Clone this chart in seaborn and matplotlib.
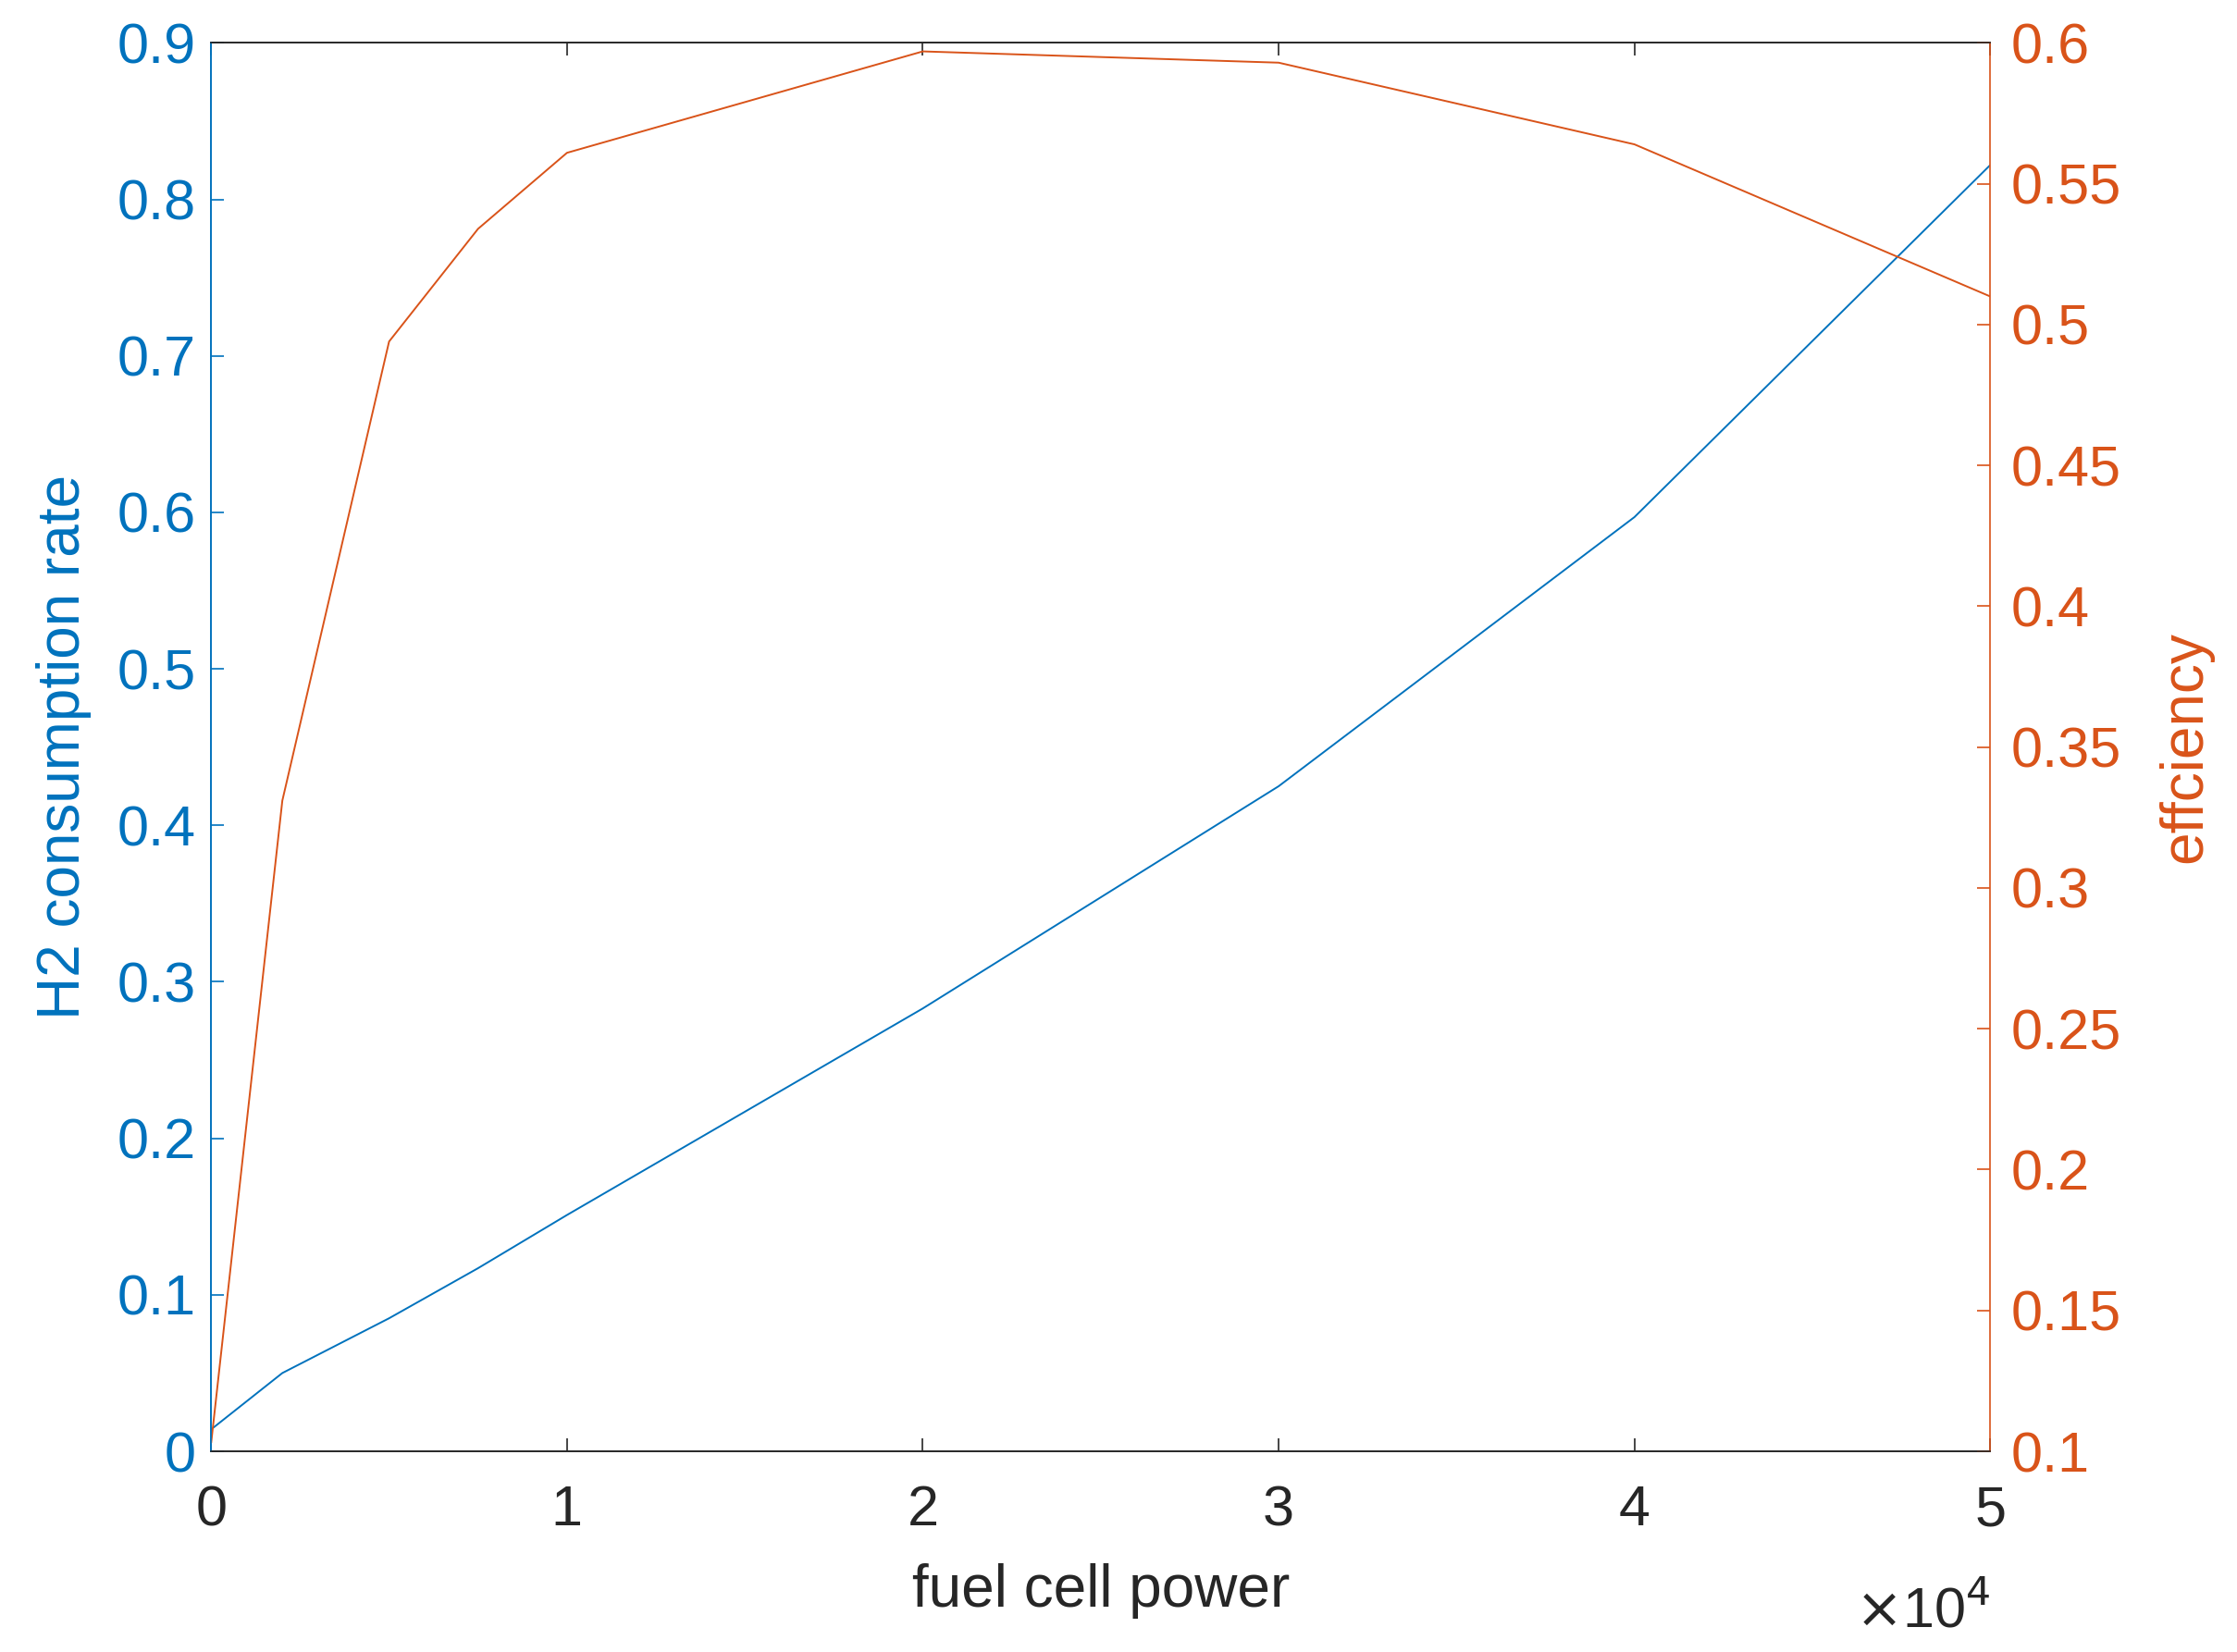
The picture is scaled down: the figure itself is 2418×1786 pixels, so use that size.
import matplotlib
matplotlib.use("Agg")
import matplotlib.pyplot as plt
import seaborn as sns
import pandas as pd

# fuel cell power (W) and the two curves
power = [0, 2000, 5000, 7500, 10000, 20000, 30000, 40000, 50000]
h2_rate = [0.014, 0.05, 0.085, 0.117, 0.151, 0.283, 0.425, 0.597, 0.822]
efficiency = [0.103, 0.331, 0.494, 0.534, 0.561, 0.597, 0.593, 0.564, 0.510]

blue = "#0072BD"
orange = "#D95319"
dark = "#262626"

sns.set_style("white")
plt.rcParams['font.family'] = ['Liberation Sans', 'DejaVu Sans']

df = pd.DataFrame({"power": power, "h2": h2_rate, "eff": efficiency})

fig = plt.figure(figsize=(12.09, 8.93), dpi=200)
ax = fig.add_axes([0.0944, 0.1215, 0.7953, 0.8525])
ax2 = ax.twinx()

sns.lineplot(data=df, x="power", y="h2", ax=ax, color=blue, lw=0.7)
sns.lineplot(data=df, x="power", y="eff", ax=ax2, color=orange, lw=0.7)

ax.set_xlim(0, 50000)
ax.set_ylim(0, 0.9)
ax2.set_ylim(0.1, 0.6)

ax.set_xticks([0, 10000, 20000, 30000, 40000, 50000])
ax.set_xticklabels(["0", "1", "2", "3", "4", "5"])
ax.set_yticks([i / 10 for i in range(10)])
ax.set_yticklabels(["0"] + [f"{i / 10:g}" for i in range(1, 10)])
ax2.set_yticks([0.1 + 0.05 * i for i in range(11)])
ax2.set_yticklabels(["0.1", "0.15", "0.2", "0.25", "0.3", "0.35", "0.4", "0.45", "0.5", "0.55", "0.6"])

fs = 22
ax.tick_params(axis="x", direction="in", top=True, bottom=True, colors=dark, labelsize=fs,
               length=5, width=0.6, pad=13)
ax.tick_params(axis="y", direction="in", colors=blue, labelsize=fs, length=5, width=0.6, pad=6)
ax2.tick_params(axis="y", direction="in", colors=orange, labelsize=fs, length=5, width=0.6, pad=8)

for a in (ax, ax2):
    for s in a.spines.values():
        s.set_linewidth(0.6)
        s.set_color(dark)
ax.spines["left"].set_color(blue)
ax2.spines["left"].set_color(blue)
ax2.spines["right"].set_color(orange)
ax.spines["right"].set_visible(False)

ax.set_xlabel("fuel cell power", fontsize=23, color=dark, labelpad=10)
ax.set_ylabel("H2 consumption rate", fontsize=23, color=blue, labelpad=10)
ax2.set_ylabel("effciency", fontsize=23, color=orange, rotation=90, labelpad=14)

ax.text(1.0, -0.095, r"$\times$10$^4$", transform=ax.transAxes, ha="right", va="top",
        fontsize=fs, color=dark)

fig.savefig("out.png", dpi=200)
